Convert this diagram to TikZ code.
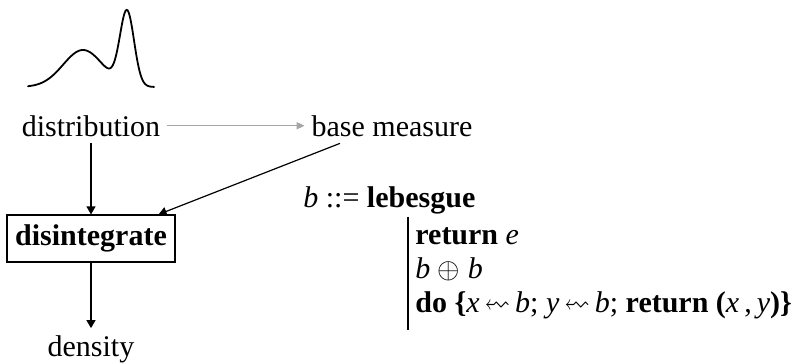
\documentclass[tikz,border=0pt]{standalone}
\usepackage{amssymb}
\usepackage{graphicx}
\usepackage{fontspec}
\setmainfont{Liberation Serif}
\usetikzlibrary{arrows.meta}
\newcommand{\lsq}{\mathrel{\reflectbox{\scalebox{0.85}[1]{$\rightsquigarrow$}}}}

\tikzset{
  lbl/.style={anchor=base, font=\fontsize{15}{18}\selectfont},
  alt/.style={anchor=base west, inner xsep=3.5pt, inner ysep=0pt,
    text height=12pt, text depth=4.8pt, font=\fontsize{15}{18}\selectfont},
  arr/.style={line width=0.6pt, -{Triangle[length=4pt,width=4.5pt]}},
  grayarr/.style={line width=0.6pt, gray!70, -{Triangle[length=4pt,width=3.6pt]}}
}

\begin{document}
\begin{tikzpicture}[x=0.5pt,y=-0.5pt]
\useasboundingbox (0,0) rectangle (804,364);

% density sketch
\draw[line width=0.9pt,line cap=round] plot[domain=28:154,samples=120,smooth]
  (\x,{87-37*exp(-((\x-83)/28)*((\x-83)/28))-74*exp(-((\x-127)/10)*((\x-127)/10))});

\node[lbl] (dist) at (91,136) {distribution};
\node[lbl] (base) at (392,136) {base measure};
\node[draw,line width=0.6pt,minimum width=84pt,minimum height=23.5pt,inner sep=0pt,
  font=\fontsize{15}{18}\selectfont\bfseries] (dis) at (91,238.5) {disintegrate};
\node[lbl] (dens) at (91,356) {density};

\draw[grayarr] (dist) -- (base);
\draw[arr] (dist) -- (dis);
\draw[arr] ([xshift=-26pt]base.south) -- ([xshift=-8.5pt]dis.north east);
\draw[arr] (dis) -- (dens);

% grammar of base measures
\node[lbl,anchor=base west,inner xsep=0pt] (gram) at (303,207)
  {\textit{b} ::= \textbf{lebesgue}};
\node[alt] (r1) at (408,244) {\textbf{return} \textit{e}};
\node[alt] (r2) at (408,278) {\textit{b} $\oplus$ \textit{b}};
\node[alt] (r3) at (408,312) {\textbf{do \{}\textit{x}\,$\lsq$\,\textit{b}; \textit{y}\,$\lsq$\,\textit{b}; \textbf{return (}\textit{x}\,,\,\textit{y}\textbf{)\}}};
\draw[line width=0.6pt] ([yshift=1.5pt]r1.north west) -- ([yshift=-4pt]r3.south west);
\end{tikzpicture}
\end{document}
